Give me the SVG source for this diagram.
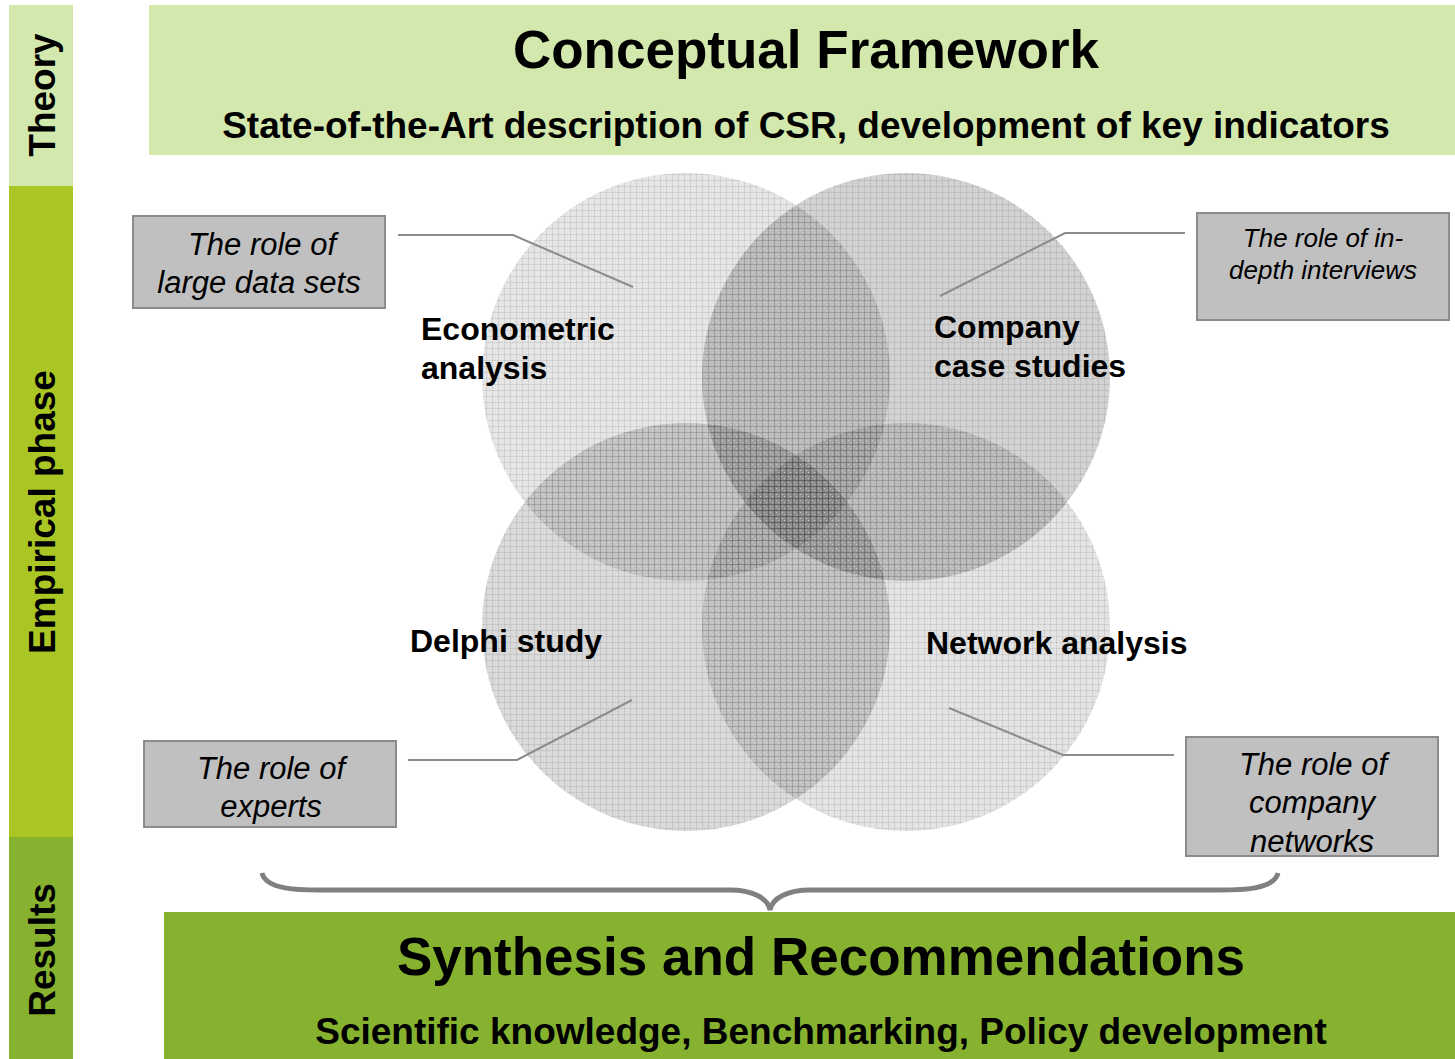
<svg xmlns="http://www.w3.org/2000/svg" width="1455" height="1059" viewBox="0 0 1455 1059">
<style>
.side{font-family:"Liberation Sans",Arial,sans-serif;font-weight:bold;font-size:37px;fill:#000}
.big{font-family:"Liberation Sans",Arial,sans-serif;font-weight:bold;fill:#000}
.lab{font-family:"Liberation Sans",Arial,sans-serif;font-weight:bold;font-size:32px;fill:#000}
.it{font-family:"Liberation Sans",Arial,sans-serif;font-style:italic;fill:#000}
.box{fill:#c0c0c0;stroke:#8c8c8c;stroke-width:2}
.con{fill:none;stroke:#8c8c8c;stroke-width:2}
</style>
<defs>
<pattern id="grid" width="6" height="6" patternUnits="userSpaceOnUse">
<path d="M0 0.5H6M0.5 0V6" stroke="#000" stroke-opacity="0.08" stroke-width="1"/>
<rect x="2" y="2" width="1" height="1" fill="#fff" fill-opacity="0.25"/>
<rect x="4" y="4" width="1" height="1" fill="#fff" fill-opacity="0.25"/>
</pattern>
</defs>
<rect width="1455" height="1059" fill="#fff"/>
<g id="side-theory"><rect x="9" y="5" width="64" height="181" fill="#d3e8ac"/><text class="side" transform="translate(55,95) rotate(-90)" text-anchor="middle">Theory</text></g>
<g id="side-empirical"><rect x="9" y="186" width="64" height="651" fill="#a9c624"/><text class="side" transform="translate(55,512) rotate(-90)" text-anchor="middle">Empirical phase</text></g>
<g id="side-results"><rect x="9" y="837" width="64" height="222" fill="#86b22f"/><text class="side" transform="translate(55,950) rotate(-90)" text-anchor="middle">Results</text></g>
<g id="theory-banner"><rect x="149" y="5" width="1306" height="150" fill="#d3e8ac"/>
<text class="big" x="806" y="68" font-size="53" text-anchor="middle">Conceptual Framework</text>
<text class="big" x="806" y="138" font-size="37" text-anchor="middle">State-of-the-Art description of CSR, development of key indicators</text></g>
<g id="circles">
<g id="c-econ"><circle cx="686" cy="377" r="204" fill="#000" fill-opacity="0.10"/><circle cx="686" cy="377" r="204" fill="url(#grid)"/></g>
<g id="c-company"><circle cx="906" cy="377" r="204" fill="#000" fill-opacity="0.18"/><circle cx="906" cy="377" r="204" fill="url(#grid)"/></g>
<g id="c-delphi"><circle cx="686" cy="627" r="204" fill="#000" fill-opacity="0.15"/><circle cx="686" cy="627" r="204" fill="url(#grid)"/></g>
<g id="c-network"><circle cx="906" cy="627" r="204" fill="#000" fill-opacity="0.11"/><circle cx="906" cy="627" r="204" fill="url(#grid)"/></g>
</g>
<g id="labels">
<text class="lab" x="421" y="340">Econometric</text><text class="lab" x="421" y="379">analysis</text>
<text class="lab" x="934" y="338">Company</text><text class="lab" x="934" y="377">case studies</text>
<text class="lab" x="410" y="652">Delphi study</text>
<text class="lab" x="926" y="654">Network analysis</text>
</g>
<g id="connectors">
<polyline class="con" points="398,235 513,235 633,287"/>
<polyline class="con" points="1185,233 1065,233 940,296"/>
<polyline class="con" points="408,760 517,760 632,700"/>
<polyline class="con" points="1174,755 1063,755 949,708"/>
<path d="M262,873 C266,890 300,890 320,890 L730,890 C752,890 768,898 770,910 C772,898 788,890 810,890 L1220,890 C1240,890 1274,890 1278,873" fill="none" stroke="#808080" stroke-width="5"/>
</g>
<g id="box-large"><rect class="box" x="133" y="216" width="252" height="92"/><text class="it" font-size="31" x="262" y="255" text-anchor="middle">The role of</text><text class="it" font-size="31" x="259" y="293" text-anchor="middle">large data sets</text></g>
<g id="box-interviews"><rect class="box" x="1197" y="213" width="252" height="107"/><text class="it" font-size="26" x="1323" y="247" text-anchor="middle">The role of in-</text><text class="it" font-size="26" x="1323" y="279" text-anchor="middle">depth interviews</text></g>
<g id="box-experts"><rect class="box" x="144" y="741" width="252" height="86"/><text class="it" font-size="31" x="271" y="779" text-anchor="middle">The role of</text><text class="it" font-size="31" x="271" y="817" text-anchor="middle">experts</text></g>
<g id="box-networks"><rect class="box" x="1186" y="737" width="252" height="119"/><text class="it" font-size="31" x="1313" y="775" text-anchor="middle">The role of</text><text class="it" font-size="31" x="1312" y="813" text-anchor="middle">company</text><text class="it" font-size="31" x="1312" y="852" text-anchor="middle">networks</text></g>
<g id="results-banner"><rect x="164" y="912" width="1291" height="147" fill="#86b22f"/>
<text class="big" x="821" y="975" font-size="53" text-anchor="middle">Synthesis and Recommendations</text>
<text class="big" x="821" y="1044" font-size="37" text-anchor="middle">Scientific knowledge, Benchmarking, Policy development</text></g>
</svg>
